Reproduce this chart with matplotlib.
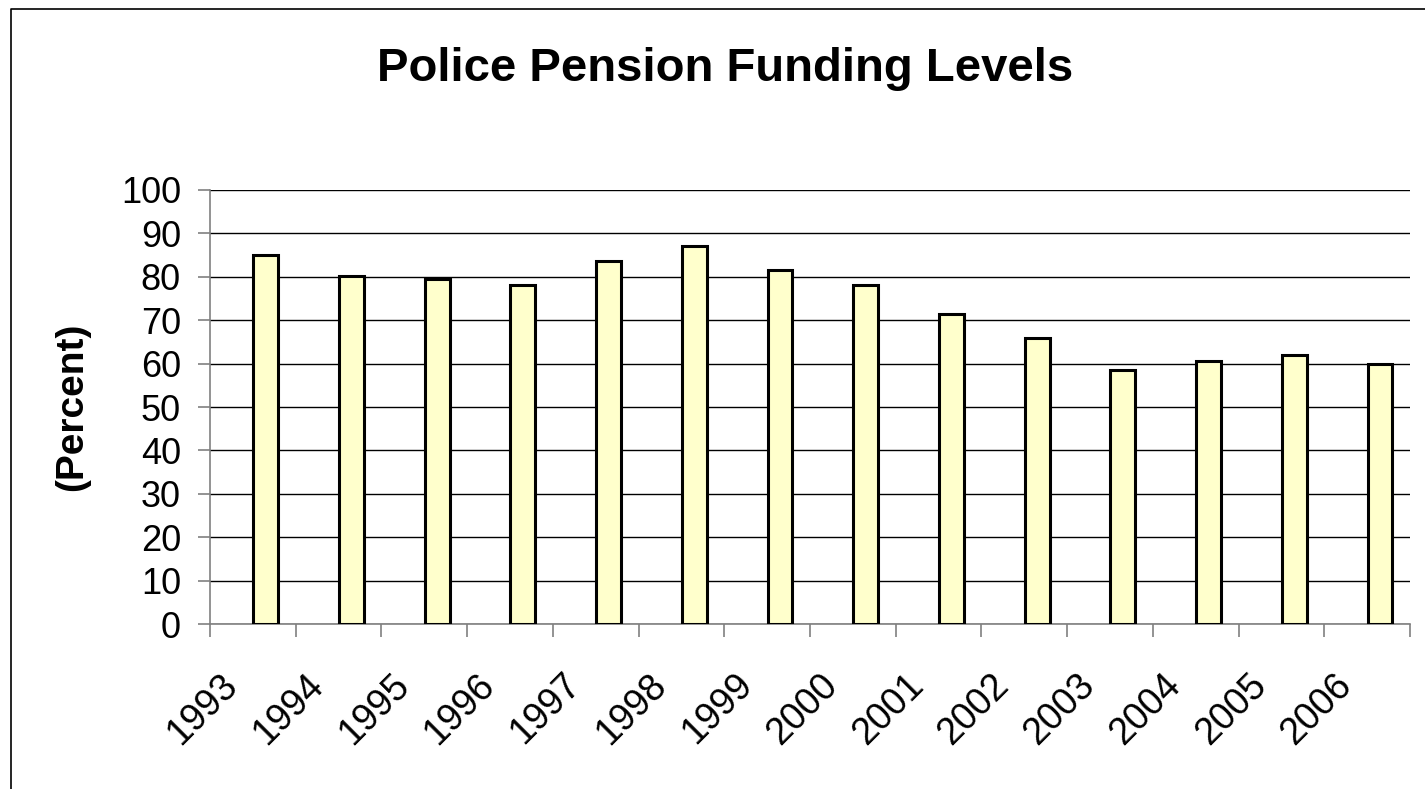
import numpy as np
import matplotlib.pyplot as plt
from matplotlib.lines import Line2D
from matplotlib.transforms import offset_copy

plt.rcParams['font.family'] = ['Liberation Sans', 'DejaVu Sans']

years = ['1993', '1994', '1995', '1996', '1997', '1998', '1999',
         '2000', '2001', '2002', '2003', '2004', '2005', '2006']
funding = [85.0, 80.2, 79.5, 78.1, 83.6, 87.1, 81.6,
           78.1, 71.4, 65.9, 58.5, 60.6, 62.0, 59.9]

fig = plt.figure(figsize=(14.25, 7.89), dpi=100)
ax = fig.add_axes([0.1474, 0.2091, 0.8421, 0.5501])

# outer chart border (only left and top visible in the original crop)
fig.add_artist(Line2D([11 / 1425, 11 / 1425, 1.0], [0.0, 1 - 9 / 789, 1 - 9 / 789],
                      transform=fig.transFigure, color='black', lw=1.2))

x = np.arange(len(years))
ax.bar(x + 0.65, funding, width=0.29, color='#FFFFCC', edgecolor='black',
       linewidth=2.2, zorder=3)

ax.set_xlim(0, len(years))
ax.set_ylim(0, 100)
ax.set_yticks(np.arange(0, 101, 10))
ax.set_xticks(np.arange(0, len(years) + 1))
ax.set_xticklabels([])
ax.grid(axis='y', color='black', lw=1, zorder=0)

for s in ['top', 'right']:
    ax.spines[s].set_visible(False)
for s in ['left', 'bottom']:
    ax.spines[s].set_color('#808080')
    ax.spines[s].set_linewidth(1.2)
ax.tick_params(axis='both', length=9, width=1.2, color='#808080')
ax.tick_params(axis='y', labelsize=26, pad=12)

# rotated year labels, anchored at their right end
trans = offset_copy(ax.get_xaxis_transform(), fig=fig, x=-15, y=-40, units='points')
for i, yr in enumerate(years):
    ax.text(i + 0.5, 0, yr, transform=trans, rotation=45, rotation_mode='anchor',
            ha='right', va='center', fontsize=27)

ax.set_ylabel('(Percent)', fontsize=28, fontweight='bold', labelpad=22)
fig.text(0.509, 0.913, 'Police Pension Funding Levels', ha='center', va='center',
         fontsize=34, fontweight='bold')

plt.savefig('out.png', dpi=100)
